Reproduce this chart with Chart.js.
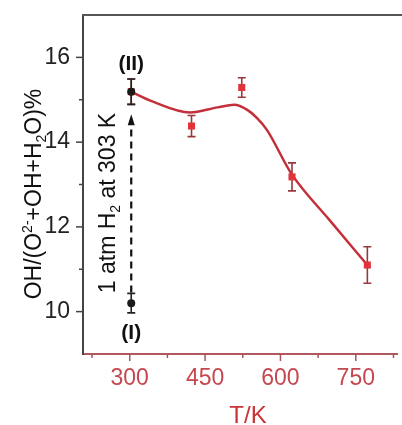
<!DOCTYPE html>
<html>
<head>
<meta charset="utf-8">
<script src="https://cdn.jsdelivr.net/npm/chart.js@4"></script>
<style>
  body { margin: 0; background: #fff; }
  #wrap { width: 402px; height: 425px; position: relative; }
</style>
</head>
<body>
<div id="wrap"><canvas id="ohchart"></canvas></div>
<script>
// measured points (red squares) and their error bars
var tempRed = [303, 423, 523, 623, 773];
var ohRed = [15.19, 14.38, 15.29, 13.18, 11.1];
var errRed = [0.3, 0.25, 0.23, 0.33, 0.43];

// points (I) and (II) before/after H2 exposure at 303 K
var tempBlack = [303, 303];
var ohBlack = [10.2, 15.19];
var errBlack = [0.23, 0.3];
var blackLabels = ['(I)', '(II)'];

// guide curve
var fitTemp = [303, 345, 420, 475, 508, 534, 553, 573, 622, 697, 773];
var fitOh = [15.19, 14.96, 14.7, 14.82, 14.88, 14.76, 14.57, 14.29, 13.25, 12.17, 11.1];

// dashed arrow from (I) to (II)
var arrowTemp = 303;
var arrowFrom = 10.45;
var arrowTo = 14.66;

var xMajor = [300, 450, 600, 750];
var xMinor = [225, 375, 525, 675, 825];
var yMajor = [10, 12, 14, 16];
var yMinor = [11, 13, 15];

var FONT = '"Liberation Sans", Arial, sans-serif';
var RED_TXT = '#c5474f';

function pts(xs, ys) {
    return xs.map(function (x, i) { return { x: x, y: ys[i] }; });
}

// draw text made of pieces: [text, 'n'|'sup'|'sub']
function richText(ctx, parts, cx, cy, size, rot) {
    ctx.save();
    ctx.translate(cx, cy);
    ctx.rotate(rot);
    ctx.textBaseline = 'alphabetic';
    ctx.textAlign = 'left';
    var small = Math.round(size * 0.62);
    var total = 0;
    parts.forEach(function (p) {
        ctx.font = (p[1] === 'n' ? size : small) + 'px ' + FONT;
        total += ctx.measureText(p[0]).width;
    });
    var x = -total / 2;
    var base = size * 0.36;
    parts.forEach(function (p) {
        var dy = 0;
        if (p[1] === 'sup') dy = -size * 0.42;
        if (p[1] === 'sub') dy = size * 0.2;
        ctx.font = (p[1] === 'n' ? size : small) + 'px ' + FONT;
        ctx.fillText(p[0], x, base + dy);
        x += ctx.measureText(p[0]).width;
    });
    ctx.restore();
}

var extras = {
    id: 'extras',
    beforeDatasetsDraw: function (chart) {
        var ctx = chart.ctx, xs = chart.scales.x, ys = chart.scales.y;
        function bars(tx, vy, er, color) {
            ctx.save();
            ctx.strokeStyle = color;
            ctx.lineWidth = 1.6;
            tx.forEach(function (t, i) {
                var px = xs.getPixelForValue(t);
                var top = ys.getPixelForValue(vy[i] + er[i]);
                var bot = ys.getPixelForValue(vy[i] - er[i]);
                ctx.beginPath();
                ctx.moveTo(px, top); ctx.lineTo(px, bot);
                ctx.moveTo(px - 4, top); ctx.lineTo(px + 4, top);
                ctx.moveTo(px - 4, bot); ctx.lineTo(px + 4, bot);
                ctx.stroke();
            });
            ctx.restore();
        }
        bars(tempRed, ohRed, errRed, '#98383c');
        bars(tempBlack, ohBlack, errBlack, '#222');

        // dashed arrow
        var ax = xs.getPixelForValue(arrowTemp);
        var a0 = ys.getPixelForValue(arrowFrom);
        var a1 = ys.getPixelForValue(arrowTo);
        ctx.save();
        ctx.strokeStyle = '#111';
        ctx.lineWidth = 2.2;
        ctx.setLineDash([7, 5]);
        ctx.beginPath();
        ctx.moveTo(ax, a0); ctx.lineTo(ax, a1 + 10);
        ctx.stroke();
        ctx.setLineDash([]);
        ctx.fillStyle = '#111';
        ctx.beginPath();
        ctx.moveTo(ax, a1);
        ctx.lineTo(ax - 3.5, a1 + 11);
        ctx.lineTo(ax + 3.5, a1 + 11);
        ctx.closePath();
        ctx.fill();
        ctx.restore();
    },
    afterDraw: function (chart) {
        var ctx = chart.ctx, xs = chart.scales.x, ys = chart.scales.y;
        var area = chart.chartArea;
        ctx.save();
        // top frame line
        ctx.strokeStyle = '#555';
        ctx.lineWidth = 2;
        ctx.beginPath();
        ctx.moveTo(area.left - 1, area.top);
        ctx.lineTo(chart.width, area.top);
        ctx.stroke();

        // y ticks (outward)
        ctx.lineWidth = 1.5;
        ctx.strokeStyle = '#444';
        yMajor.forEach(function (v) {
            var py = ys.getPixelForValue(v);
            ctx.beginPath(); ctx.moveTo(area.left, py); ctx.lineTo(area.left - 7, py); ctx.stroke();
        });
        yMinor.forEach(function (v) {
            var py = ys.getPixelForValue(v);
            ctx.beginPath(); ctx.moveTo(area.left, py); ctx.lineTo(area.left - 4, py); ctx.stroke();
        });
        // x ticks (outward)
        ctx.strokeStyle = '#a8545a';
        xMajor.forEach(function (v) {
            var px = xs.getPixelForValue(v);
            ctx.beginPath(); ctx.moveTo(px, area.bottom); ctx.lineTo(px, area.bottom + 7); ctx.stroke();
        });
        xMinor.forEach(function (v) {
            var px = xs.getPixelForValue(v);
            ctx.beginPath(); ctx.moveTo(px, area.bottom); ctx.lineTo(px, area.bottom + 4); ctx.stroke();
        });

        // labels (I) and (II)
        ctx.fillStyle = '#111';
        ctx.font = 'bold 21px ' + FONT;
        ctx.textAlign = 'center';
        ctx.textBaseline = 'middle';
        var lx = xs.getPixelForValue(303);
        ctx.fillText(blackLabels[1], lx, 64);
        ctx.fillText(blackLabels[0], lx, 333);
        ctx.restore();

        // axis titles and annotation
        ctx.save();
        ctx.fillStyle = '#111';
        richText(ctx, [['OH/(O', 'n'], ['2-', 'sup'], ['+OH+H', 'n'], ['2', 'sub'], ['O)%', 'n']],
            33, 194, 23, -Math.PI / 2);
        richText(ctx, [['1 atm H', 'n'], ['2', 'sub'], [' at 303 K', 'n']],
            107, 203, 23, -Math.PI / 2);
        ctx.fillStyle = '#c83438';
        richText(ctx, [['T/K', 'n']], 248, 414, 24, 0);
        ctx.restore();
    }
};

var ctxoh = document.getElementById('ohchart');
var ohchart = new Chart(ctxoh, {
    type: 'scatter',
    data: {
        datasets: [{
            label: 'fit',
            data: pts(fitTemp, fitOh),
            showLine: true,
            cubicInterpolationMode: 'monotone',
            borderColor: '#c4303a',
            borderWidth: 2.5,
            pointRadius: 0,
            order: 3
        }, {
            label: 'T-dependent',
            data: pts(tempRed, ohRed),
            pointStyle: 'rect',
            pointRadius: 5,
            backgroundColor: '#e0343a',
            borderWidth: 0,
            order: 2
        }, {
            label: 'H2 303 K',
            data: pts(tempBlack, ohBlack),
            pointStyle: 'circle',
            pointRadius: 4,
            backgroundColor: '#1a1a1a',
            borderWidth: 0,
            order: 1
        }]
    },
    options: {
        responsive: true,
        maintainAspectRatio: false,
        animation: false,
        layout: { padding: { top: 15, right: 0, left: 0, bottom: 0 } },
        plugins: { legend: { display: false }, tooltip: { enabled: false } },
        scales: {
            x: {
                type: 'linear',
                min: 207,
                max: 832,
                afterFit: function (s) {
                    s.height = 71;
                    s.paddingLeft = 0; s.paddingRight = 0;
                },
                afterBuildTicks: function (s) { s.ticks = xMajor.map(function (v) { return { value: v }; }); },
                grid: { display: false, drawTicks: false, tickLength: 0 },
                border: { display: true, color: '#b0585e', width: 2 },
                ticks: { color: RED_TXT, font: { family: FONT, size: 23 }, padding: 11, maxRotation: 0 }
            },
            y: {
                min: 9,
                max: 17,
                afterFit: function (s) {
                    s.width = 83;
                    s.paddingTop = 0; s.paddingBottom = 0;
                },
                afterBuildTicks: function (s) { s.ticks = yMajor.map(function (v) { return { value: v }; }); },
                grid: { display: false, drawTicks: false, tickLength: 0 },
                border: { display: true, color: '#444', width: 2 },
                ticks: { color: '#222', font: { family: FONT, size: 23 }, padding: 13 }
            }
        }
    },
    plugins: [extras]
});
</script>
</body>
</html>
